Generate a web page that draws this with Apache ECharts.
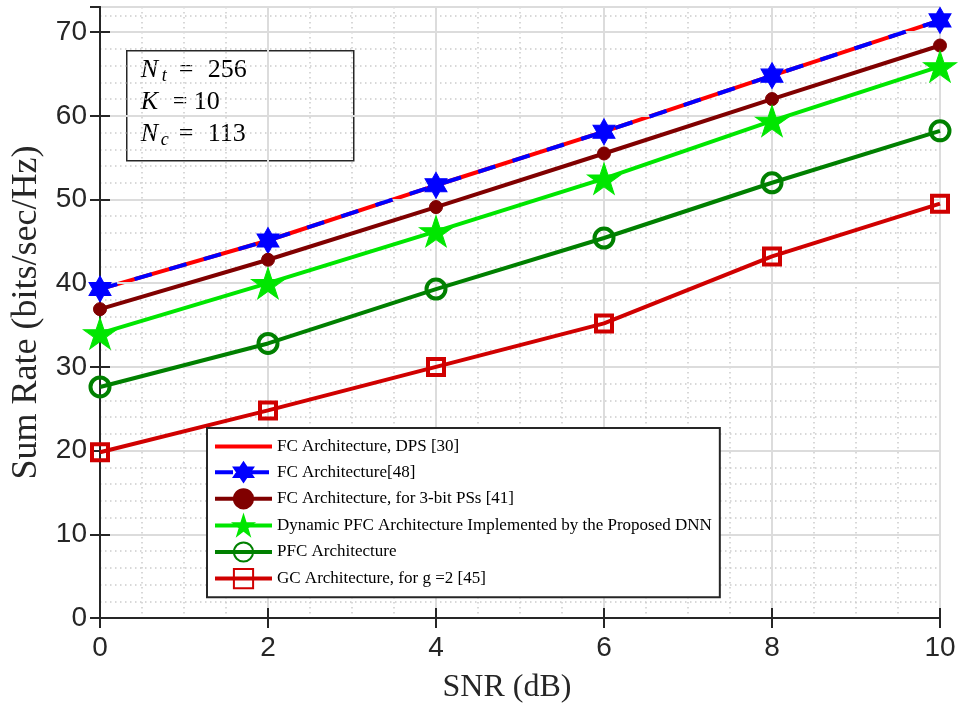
<!DOCTYPE html>
<html>
<head>
<meta charset="utf-8">
<script src="https://cdn.jsdelivr.net/npm/echarts@6/dist/echarts.min.js"></script>
<style>
html,body{margin:0;padding:0;background:#fff;}
#chart{width:959px;height:706px;}
</style>
</head>
<body>
<div id="chart"></div>
<script>
// ---- data ----
const snr = [0, 2, 4, 6, 8, 10];
const xTicks = [0, 2, 4, 6, 8, 10];
const yTicks = [0, 10, 20, 30, 40, 50, 60, 70];
const seriesNames = [
  'FC Architecture, DPS [30]',
  'FC Architecture[48]',
  'FC Architecture, for 3-bit PSs [41]',
  'Dynamic PFC Architecture Implemented by the Proposed DNN',
  'PFC Architecture',
  'GC Architecture, for g =2 [45]'
];
const fcDps   = [39.3, 45.1, 51.7, 58.1, 64.8, 71.4];
const fc48    = [39.3, 45.1, 51.7, 58.1, 64.8, 71.4];
const fc3bit  = [36.9, 42.8, 49.1, 55.5, 62.0, 68.4];
const dnnPfc  = [34.0, 40.0, 46.2, 52.5, 59.4, 65.9];
const pfc     = [27.6, 32.8, 39.3, 45.4, 52.0, 58.2];
const gc      = [19.8, 24.8, 30.0, 35.2, 43.2, 49.5];

const pair = arr => snr.map((x, i) => [x, arr[i]]);

const HEXAGRAM = 'path://M0,-10 L2.887,-5 L8.66,-5 L5.774,0 L8.66,5 L2.887,5 L0,10 L-2.887,5 L-8.66,5 L-5.774,0 L-8.66,-5 L-2.887,-5 Z';
const PENTAGRAM = 'path://M0,-10 L2.245,-3.09 L9.511,-3.09 L3.633,1.18 L5.878,8.09 L0,3.82 L-5.878,8.09 L-3.633,1.18 L-9.511,-3.09 L-2.245,-3.09 Z';

const AX = '#262626';
const tickFont = {fontFamily: 'Liberation Sans', fontSize: 28, color: AX};
const XMIN = 0, XMAX = 10, YMIN = 0, YMAX = 73;
const MINOR = '#cccccc';

const chart = echarts.init(document.getElementById('chart'), null, {renderer: 'canvas'});

const option = {
  backgroundColor: '#fff',
  animation: false,
  grid: {left: 100, right: 19, top: 7, bottom: 88, containLabel: false, outerBoundsMode: 'none'},
  xAxis: [
    {
      type: 'value', position: 'bottom', min: XMIN, max: XMAX, interval: 2,
      name: 'SNR (dB)', nameLocation: 'middle', nameGap: 54,
      nameTextStyle: {fontFamily: 'Liberation Serif', fontSize: 32, color: AX, padding: [0, 26, 0, 0]},
      axisLine: {show: true, lineStyle: {color: AX, width: 2}},
      axisTick: {show: true, inside: true, length: 10, lineStyle: {color: AX, width: 2}},
      axisLabel: Object.assign({margin: 16, formatter: v => xTicks.includes(v) ? String(v) : ''}, tickFont),
      splitLine: {show: true, lineStyle: {color: '#dcdcdc', width: 2}},
      z: 3
    },
    {
      type: 'value', position: 'top', min: XMIN, max: XMAX, interval: 2,
      axisLine: {show: true, lineStyle: {color: AX, width: 2}},
      axisTick: {show: true, inside: true, length: 10, lineStyle: {color: AX, width: 2}},
      axisLabel: {show: false}, splitLine: {show: false}, z: 3
    },
    {
      type: 'value', position: 'bottom', min: XMIN, max: XMAX, interval: 0.5,
      axisLine: {show: false}, axisTick: {show: false}, axisLabel: {show: false},
      splitLine: {show: true, lineStyle: {color: ['transparent', MINOR, MINOR, MINOR], width: 1.5, type: [1.5, 3.5]}},
      z: 0
    }
  ],
  yAxis: [
    {
      type: 'value', position: 'left', min: YMIN, max: YMAX, interval: 10,
      name: 'Sum Rate (bits/sec/Hz)', nameLocation: 'middle', nameGap: 49,
      nameTextStyle: {fontFamily: 'Liberation Serif', fontSize: 36, color: AX},
      axisLine: {show: true, lineStyle: {color: AX, width: 2}},
      axisTick: {show: true, inside: true, length: 10, lineStyle: {color: AX, width: 2}},
      axisLabel: Object.assign({margin: 13, showMaxLabel: false, formatter: v => yTicks.includes(v) ? String(v) : ''}, tickFont),
      splitLine: {show: true, lineStyle: {color: '#dcdcdc', width: 2}},
      z: 3
    },
    {
      type: 'value', position: 'right', min: YMIN, max: YMAX, interval: 10,
      axisLine: {show: true, lineStyle: {color: AX, width: 2}},
      axisTick: {show: true, inside: true, length: 10, lineStyle: {color: AX, width: 2}},
      axisLabel: {show: false}, splitLine: {show: false}, z: 3
    },
    {
      type: 'value', position: 'left', min: YMIN, max: YMAX, interval: 2,
      axisLine: {show: false}, axisTick: {show: false}, axisLabel: {show: false},
      splitLine: {show: true, lineStyle: {color: ['transparent', MINOR, MINOR, MINOR, MINOR], width: 1.5, type: [1.5, 3.5]}},
      z: 0
    }
  ],
  legend: {
    orient: 'vertical', left: 207, top: 428,
    padding: [9, 8, 8, 6], itemGap: 5.4, itemWidth: 57, itemHeight: 24,
    backgroundColor: '#fff', borderColor: AX, borderWidth: 2,
    lineStyle: {width: 4},
    textStyle: {fontFamily: 'Liberation Serif', fontSize: 17, color: '#000'},
    data: seriesNames,
    z: 10
  },
  series: [
    {
      name: seriesNames[0], type: 'line', data: pair(fcDps), symbol: 'circle', showSymbol: false,
      lineStyle: {color: '#ff0000', width: 4},
      itemStyle: {color: 'transparent', borderColor: 'transparent', borderWidth: 0},
      z: 2
    },
    {
      name: seriesNames[1], type: 'line', data: pair(fc48), symbol: HEXAGRAM, symbolSize: [22, 26],
      lineStyle: {color: '#0000ff', width: 4, type: [18, 18]},
      itemStyle: {color: '#0000ff', borderColor: '#0000ff', borderWidth: 1},
      z: 3
    },
    {
      name: seriesNames[2], type: 'line', data: pair(fc3bit), symbol: 'circle', symbolSize: 13,
      lineStyle: {color: '#800000', width: 4},
      itemStyle: {color: '#800000', borderColor: '#800000', borderWidth: 1},
      z: 4
    },
    {
      name: seriesNames[3], type: 'line', data: pair(dnnPfc), symbol: PENTAGRAM, symbolSize: [33, 31],
      lineStyle: {color: '#00e600', width: 4},
      itemStyle: {color: '#00e600', borderColor: '#00e600', borderWidth: 1},
      z: 5
    },
    {
      name: seriesNames[4], type: 'line', data: pair(pfc), symbol: 'circle', symbolSize: 19,
      lineStyle: {color: '#008000', width: 4},
      itemStyle: {color: 'transparent', borderColor: '#008000', borderWidth: 4},
      z: 6
    },
    {
      name: seriesNames[5], type: 'line', data: pair(gc), symbol: 'rect', symbolSize: 16,
      lineStyle: {color: '#d00000', width: 4},
      itemStyle: {color: 'transparent', borderColor: '#d00000', borderWidth: 4},
      z: 7
    }
  ],
  graphic: [
    {
      type: 'group', left: 126, top: 50, z: 20,
      children: [
        {type: 'rect', shape: {x: 0, y: 0, width: 227, height: 110}, style: {fill: '#fff', stroke: '#262626', lineWidth: 1.5}},
        {type: 'text', x: 14, y: 6, style: {text: 'N', font: 'italic 26px "Liberation Serif"', fill: '#000'}},
        {type: 'text', x: 35, y: 17, style: {text: 't', font: 'italic 18px "Liberation Serif"', fill: '#000'}},
        {type: 'text', x: 52, y: 6, style: {text: '=', font: '26px "Liberation Serif"', fill: '#000'}},
        {type: 'text', x: 81, y: 6, style: {text: '256', font: '26px "Liberation Serif"', fill: '#000'}},
        {type: 'text', x: 14, y: 38, style: {text: 'K', font: 'italic 26px "Liberation Serif"', fill: '#000'}},
        {type: 'text', x: 46, y: 38, style: {text: '=', font: '26px "Liberation Serif"', fill: '#000'}},
        {type: 'text', x: 67, y: 38, style: {text: '10', font: '26px "Liberation Serif"', fill: '#000'}},
        {type: 'text', x: 14, y: 70, style: {text: 'N', font: 'italic 26px "Liberation Serif"', fill: '#000'}},
        {type: 'text', x: 34, y: 81, style: {text: 'c', font: 'italic 18px "Liberation Serif"', fill: '#000'}},
        {type: 'text', x: 52, y: 70, style: {text: '=', font: '26px "Liberation Serif"', fill: '#000'}},
        {type: 'text', x: 81, y: 70, style: {text: '113', font: '26px "Liberation Serif"', fill: '#000'}}
      ]
    }
  ]
};
chart.setOption(option);
</script>
</body>
</html>
